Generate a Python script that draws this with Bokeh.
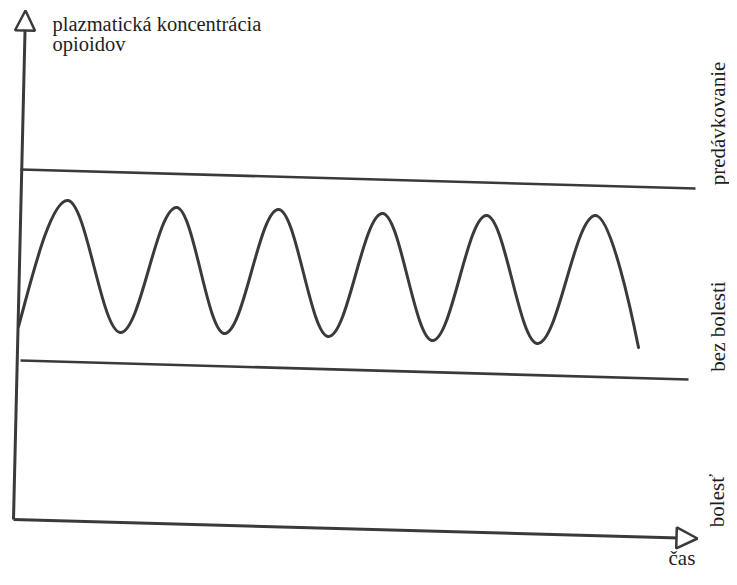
import numpy as np
from bokeh.plotting import figure
from bokeh.models import Range1d, Arrow, NormalHead
from bokeh.core.properties import value
from bokeh.embed import file_html
from bokeh.resources import INLINE

# ---- values (screen-like units, level grows downward) ----
curve_start_time = [18]
curve_start_level = [326]
extreme_time = [67, 120, 176, 224, 278, 328, 382, 432, 486, 537, 595]
extreme_level = [200, 332, 207, 333, 209, 336, 213, 340, 215, 343, 215]
curve_end_time = [638]
curve_end_level = [347]

overdose_line_time = [20, 695]
overdose_line_level = [169, 188]
pain_line_time = [20, 688]
pain_line_level = [360, 379]

axis_origin_time = [13]
axis_origin_level = [519]
y_axis_tip = [25, 10]
x_axis_tip = [697, 538]

zone_labels = ["predávkovanie", "bez bolesti", "bolesť"]
zone_label_time = [717, 717, 716]
zone_label_level = [123, 326, 500]
y_title = ["plazmatická koncentrácia", "opioidov"]
y_title_time = [52, 52]
y_title_level = [23, 43]
x_title = ["čas"]
x_title_time = [668]
x_title_level = [557]

# ---- style ----
INK = "#3a3a3a"
TEXT = "#1e1e1e"
FONT = value("serif")

W, H = 729, 569
p = figure(width=W, height=H, x_range=Range1d(0, W), y_range=Range1d(H, 0),
           output_backend="svg", toolbar_location=None, min_border=0,
           background_fill_color="white", border_fill_color="white")
p.axis.visible = False
p.grid.visible = False
p.outline_line_color = None

# axes with open arrow heads
p.add_layout(Arrow(end=NormalHead(size=20, fill_color="white", line_color=INK, line_width=2.5),
                   x_start=axis_origin_time[0], y_start=axis_origin_level[0],
                   x_end=y_axis_tip[0], y_end=y_axis_tip[1],
                   line_color=INK, line_width=3))
p.add_layout(Arrow(end=NormalHead(size=21, fill_color="white", line_color=INK, line_width=2.5),
                   x_start=axis_origin_time[0], y_start=axis_origin_level[0],
                   x_end=x_axis_tip[0], y_end=x_axis_tip[1],
                   line_color=INK, line_width=3))

# zone boundaries
p.line(overdose_line_time, overdose_line_level, line_color=INK, line_width=2.6)
p.line(pain_line_time, pain_line_level, line_color=INK, line_width=2.6)

# concentration curve: smooth cubic segments through the read knots
kx = curve_start_time + extreme_time + curve_end_time
ky = curve_start_level + extreme_level + curve_end_level
slope = [-3.6] + [0.0] * len(extreme_time) + [5.0]
handle = [0.25] + [0.36] * len(extreme_time) + [0.15]
x0, y0, x1, y1, cx0, cy0, cx1, cy1 = ([] for _ in range(8))
for i in range(len(kx) - 1):
    dx = kx[i + 1] - kx[i]
    a0 = handle[i] * dx
    a1 = handle[i + 1] * dx
    x0.append(kx[i]); y0.append(ky[i])
    x1.append(kx[i + 1]); y1.append(ky[i + 1])
    cx0.append(kx[i] + a0); cy0.append(ky[i] + slope[i] * a0)
    cx1.append(kx[i + 1] - a1); cy1.append(ky[i + 1] - slope[i + 1] * a1)
p.bezier(x0=x0, y0=y0, x1=x1, y1=y1, cx0=cx0, cy0=cy0, cx1=cx1, cy1=cy1,
         line_color=INK, line_width=3, line_cap="round")

# texts
p.text(x=y_title_time, y=y_title_level, text=y_title, text_font=FONT,
       text_font_size="20.5px", text_align="left", text_baseline="alphabetic", text_color=TEXT)
p.text(x=x_title_time, y=x_title_level, text=x_title, text_font=FONT,
       text_font_size="21px", text_align="left", text_baseline="alphabetic", text_color=TEXT)
p.text(x=zone_label_time, y=zone_label_level, text=zone_labels, angle=np.pi / 2, text_font=FONT,
       text_font_size="21px", text_align="center", text_baseline="alphabetic", text_color=TEXT)

open("out.html", "w").write(file_html(p, INLINE))
